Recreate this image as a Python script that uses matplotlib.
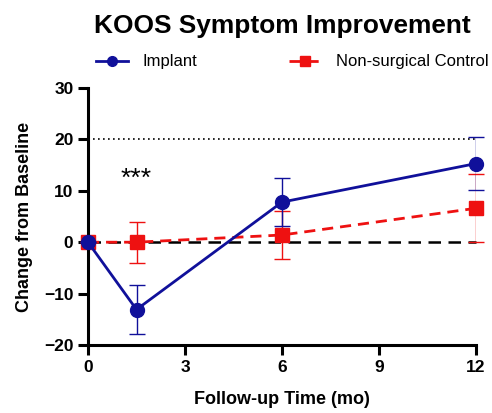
import numpy as np
import matplotlib
matplotlib.use("Agg")
import matplotlib.pyplot as plt
from matplotlib.lines import Line2D

plt.rcParams['font.family'] = ['Liberation Sans', 'DejaVu Sans']

months = [0, 1.5, 6, 12]
implant = [0, -13.1, 7.8, 15.3]
implant_err = [0, 4.7, 4.7, 5.1]
control = [0, 0.0, 1.4, 6.6]
control_err = [0, 4.0, 4.7, 6.6]

xticks = [0, 3, 6, 9, 12]
yticks = [-20, -10, 0, 10, 20, 30]

blue = '#10109a'
red = '#ee1111'

fig = plt.figure(figsize=(4.92, 4.13), dpi=100)
ax = fig.add_axes([88 / 492, 68 / 413, 388 / 492, 257 / 413])

ax.axhline(0, color='black', lw=1.8, ls=(0, (5, 3)), zorder=1)
ax.axhline(20, color='black', lw=1.2, ls=(0, (1, 2)), zorder=1)

ax.errorbar(months, control, yerr=control_err, color=red, lw=2,
            ls=(0, (4, 2.5)), marker='s', ms=10, capsize=6, elinewidth=1,
            capthick=1, zorder=2)
ax.errorbar(months, implant, yerr=implant_err, color=blue, lw=2,
            marker='o', ms=10, capsize=6, elinewidth=1, capthick=1, zorder=3)

ax.text(1.5, 10, '***', ha='center', va='bottom', fontsize=19)

ax.set_xlim(0, 12)
ax.set_ylim(-20, 30)
ax.set_xticks(xticks)
ax.set_yticks(yticks)
for s in ['top', 'right']:
    ax.spines[s].set_visible(False)
for s in ['left', 'bottom']:
    ax.spines[s].set_linewidth(2.2)
ax.tick_params(width=2.2, length=7, labelsize=12.5)
for lab in ax.get_xticklabels() + ax.get_yticklabels():
    lab.set_fontweight('bold')
ax.set_xlabel('Follow-up Time (mo)', fontsize=13, fontweight='bold', labelpad=12)
ax.set_ylabel('Change from Baseline', fontsize=13, fontweight='bold', labelpad=8)
for line in ax.get_lines():
    line.set_clip_on(False)

fig.text(0.574, 0.938, 'KOOS Symptom Improvement', ha='center', va='center',
         fontsize=18.9, fontweight='bold')
handles = [Line2D([], [], color=blue, lw=2, marker='o', ms=7),
           Line2D([], [], color=red, lw=2, ls=(0, (4, 2.5)), marker='s', ms=7)]
fig.legend(handles, ['Implant', 'Non-surgical Control'], loc='center',
           bbox_to_anchor=(0.594, 0.85), ncol=2, frameon=False, fontsize=12,
           columnspacing=5.5, handlelength=1.9, handletextpad=0.9)

fig.savefig('out.png', dpi=100)
